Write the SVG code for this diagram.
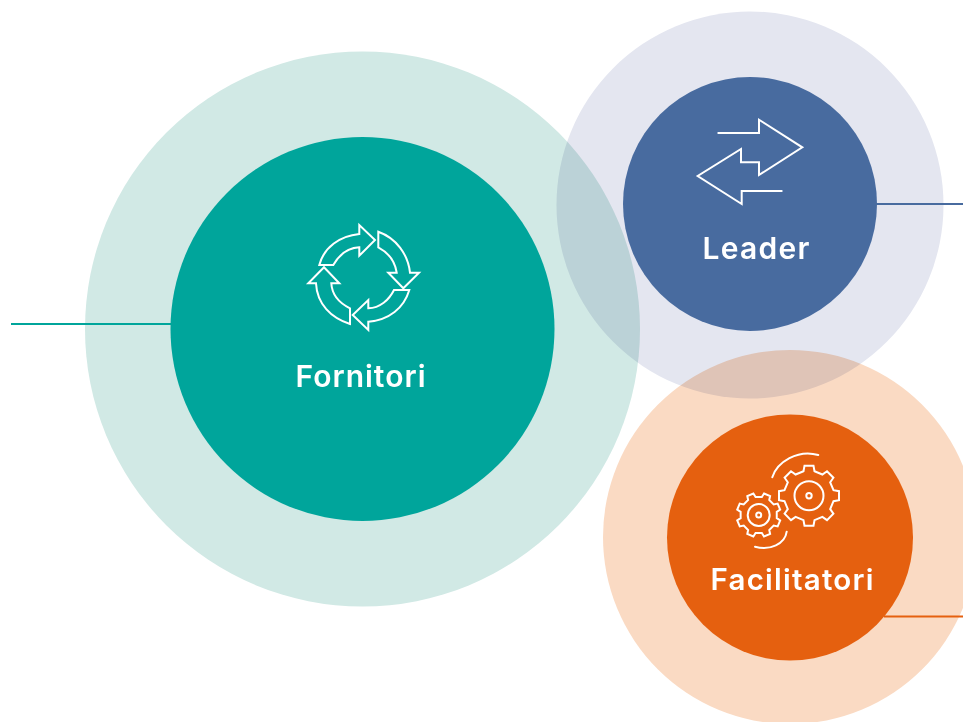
<svg xmlns="http://www.w3.org/2000/svg" width="963" height="722" viewBox="0 0 963 722">
<style>
.halo{mix-blend-mode:multiply}
.ic{fill:none;stroke:#fff;stroke-width:2;stroke-linejoin:miter;stroke-linecap:round}
.lbl{font-family:"Inter","Noto Sans",sans-serif;font-weight:600;fill:#fff;text-anchor:middle}
.conn{fill:none;stroke-width:2}
</style>
<defs>
<path id="gear" d="M-4.5-30H4.5L5.5-24.5L13.4-21.2L18-24.4L24.400-18L21.200-13.400L24.500-5.500L30-4.500V4.500L24.500 5.500L21.200 13.400L24.400 18L18 24.400L13.400 21.200L5.500 24.500L4.500 30H-4.500L-5.500 24.500L-13.400 21.200L-18 24.400L-24.400 18L-21.200 13.400L-24.500 5.500L-30 4.500V-4.500L-24.500-5.500L-21.200-13.400L-24.400-18L-18-24.400L-13.400-21.200L-5.500-24.500Z"/>
</defs>
<rect width="963" height="722" fill="#fff"/>
<circle class="halo" cx="362.500" cy="329" r="277.500" fill="#D1E9E5"/>
<circle class="halo" cx="750" cy="205" r="193.500" fill="#E4E6F0"/>
<circle class="halo" cx="790" cy="537" r="187" fill="#FADAC3"/>
<g id="connectors">
<path class="conn" stroke="#00A59B" d="M11 324H172"/>
<path class="conn" stroke="#486B9F" d="M876 204H963"/>
<path class="conn" stroke="#E5600F" d="M884 616.500H963"/>
</g>
<g id="fornitori">
<circle cx="362.500" cy="329" r="192" fill="#00A59B"/>
<g class="ic">
<path d="M319.300 265C324 247 340 236 359.300 234V225L375 240L359.300 255.700V247.300C347 248 339 255 333.300 265Z"/>
<path d="M378.300 231.700C396 238 408 254 410 272.700H419L403.300 288.300L388.300 272.700H396.700C395 261 389 253 378.300 247.300Z"/>
<path d="M409.300 290C404 308 389 320 368.300 321.700V330L352.700 315L368.300 300V308.300C380 308 389 300 394 290Z"/>
<path d="M350 324C331 318 317 304 316 283.300H308.300L324 267.300L339.300 283.300H331.300C332 295 339 303 350 308.300Z"/>
</g>
<text class="lbl" x="360.500" y="387" font-size="30" textLength="130" lengthAdjust="spacing">Fornitori</text>
</g>
<g id="leader">
<circle cx="750" cy="204" r="127" fill="#486B9F"/>
<path class="ic" d="M718.300 133H759V119.700L802.300 147.300L759 175V162.300H741V149L697.700 176L741.700 204V191H781.700"/>
<text class="lbl" x="756" y="259" font-size="30" textLength="107" lengthAdjust="spacing">Leader</text>
</g>
<g id="facilitatori">
<circle cx="790" cy="537.500" r="123" fill="#E5600F"/>
<g class="ic">
<use href="#gear" transform="translate(809 495.700)"/>
<circle cx="809" cy="495.700" r="14.500"/>
<circle cx="809" cy="495.700" r="2.700"/>
<use href="#gear" transform="translate(758.700 515) rotate(22.500) scale(.73)" style="stroke-width:2.700"/>
<circle cx="758.700" cy="515" r="11"/>
<circle cx="758.700" cy="515" r="2.500"/>
<path d="M772.300 477.300C777 462 798 449 818.300 455"/>
<path d="M786.700 531.700C785 544 770 551 755 546.700"/>
</g>
<text class="lbl" x="792" y="589.500" font-size="29.500" textLength="163" lengthAdjust="spacing">Facilitatori</text>
</g>
</svg>
